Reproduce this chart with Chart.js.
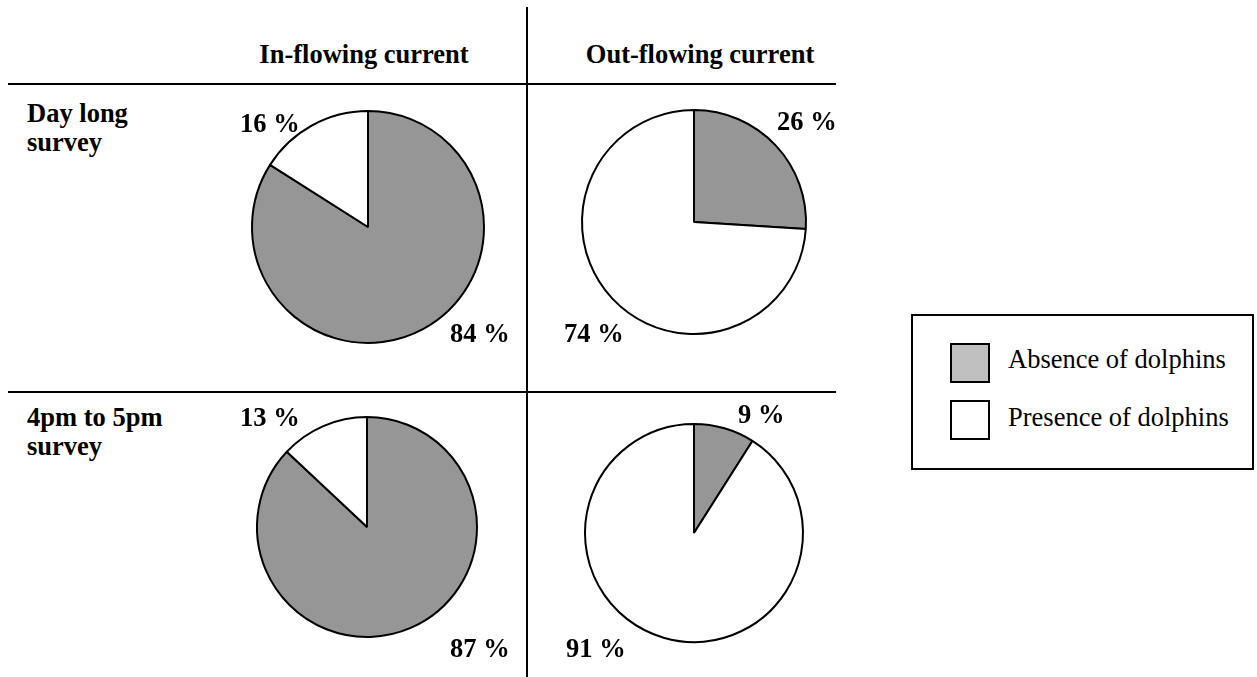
<!DOCTYPE html>
<html>
<head>
<meta charset="utf-8">
<title>Dolphins and currents</title>
<script src="https://cdn.jsdelivr.net/npm/chart.js@4.4.1/dist/chart.umd.min.js"></script>
<style>
  html, body { margin: 0; padding: 0; background: #fff; }
  #page { position: relative; width: 1257px; height: 677px; overflow: hidden;
          font-family: "Liberation Serif", "Times New Roman", serif; color: #000; }
  .hline { position: absolute; height: 2px; background: #000; }
  .vline { position: absolute; width: 2px; background: #000; }
  .head { position: absolute; width: 320px; text-align: center; font-weight: bold;
          font-size: 26.5px; line-height: 30px; white-space: nowrap; }
  .row { position: absolute; font-weight: bold; font-size: 26.5px; line-height: 29px; white-space: nowrap; }
  .pie { position: absolute; }
  #legend { position: absolute; left: 911px; top: 314px; width: 343px; height: 156px;
            box-sizing: border-box; border: 2px solid #000; background: #fff; }
  .swatch { position: absolute; left: 37px; width: 40px; height: 40px; box-sizing: border-box; border: 2px solid #000; }
  .ltext { position: absolute; left: 95px; font-size: 26.5px; line-height: 30px; white-space: nowrap; }
</style>
</head>
<body>
<div id="page">
  <div class="vline" style="left:526px; top:7px; height:670px;"></div>
  <div class="hline" style="left:8px; top:83px; width:828px;"></div>
  <div class="hline" style="left:8px; top:391px; width:828px;"></div>
  <div id="heads"></div>
  <div id="rows"></div>
  <div id="pies"></div>
  <div id="legend"></div>
</div>

<script>
// categories (slice order, clockwise from 12 o'clock)
var categories = ["Absence of dolphins", "Presence of dolphins"];
var columnLabels = ["In-flowing current", "Out-flowing current"];
var rowLabels = [["Day long", "survey"], ["4pm to 5pm", "survey"]];

// percentages [absence, presence]
var dayLongIn = [84, 16];
var dayLongOut = [26, 74];
var lateIn = [87, 13];
var lateOut = [9, 91];

var sliceColors = ["#969696", "#ffffff"];
var legendColors = ["#c0c0c0", "#ffffff"];

// layout of the 2x2 grid
var pies = [
  { values: dayLongIn,  cx: 368, cy: 227, r: 116, offsets: [[82, 115], [-128, -95]] },
  { values: dayLongOut, cx: 694, cy: 222, r: 112, offsets: [[83, -92], [-130, 120]] },
  { values: lateIn,     cx: 367, cy: 527, r: 110, offsets: [[83, 130], [-127, -101]] },
  { values: lateOut,    cx: 694, cy: 533, r: 109, offsets: [[44, -110], [-128, 124]] }
];
var headCenters = [364, 700];
var rowTops = [99, 403];

var SIZE = 320;

function labelPlugin(offsets) {
  return {
    id: 'pctLabels',
    afterDatasetsDraw: function(chart) {
      var arc = chart.getDatasetMeta(0).data[0];
      var ctx = chart.ctx;
      ctx.save();
      ctx.font = 'bold 26.5px "Liberation Serif"';
      ctx.fillStyle = '#000';
      ctx.textAlign = 'left';
      ctx.textBaseline = 'alphabetic';
      chart.data.datasets[0].data.forEach(function(v, i) {
        ctx.fillText(v + ' %', arc.x + offsets[i][0], arc.y + offsets[i][1]);
      });
      ctx.restore();
    }
  };
}

// headers and row titles
columnLabels.forEach(function(t, i) {
  var d = document.createElement('div');
  d.className = 'head';
  d.style.left = (headCenters[i] - 160) + 'px';
  d.style.top = '39px';
  d.textContent = t;
  document.getElementById('heads').appendChild(d);
});
rowLabels.forEach(function(lines, i) {
  var d = document.createElement('div');
  d.className = 'row';
  d.style.left = '27px';
  d.style.top = rowTops[i] + 'px';
  d.innerHTML = lines.join('<br>');
  document.getElementById('rows').appendChild(d);
});

// legend
categories.forEach(function(c, i) {
  var lg = document.getElementById('legend');
  var s = document.createElement('div');
  s.className = 'swatch';
  s.style.top = (27 + i * 57) + 'px';
  s.style.background = legendColors[i];
  lg.appendChild(s);
  var t = document.createElement('div');
  t.className = 'ltext';
  t.style.top = (28 + i * 58) + 'px';
  t.textContent = c;
  lg.appendChild(t);
});

// the four pies
pies.forEach(function(p) {
  var cv = document.createElement('canvas');
  cv.className = 'pie';
  cv.width = SIZE;
  cv.height = SIZE;
  cv.style.left = (p.cx - SIZE / 2) + 'px';
  cv.style.top = (p.cy - SIZE / 2) + 'px';
  document.getElementById('pies').appendChild(cv);

  new Chart(cv.getContext('2d'), {
    type: 'pie',
    data: {
      labels: categories,
      datasets: [{
        data: p.values,
        backgroundColor: sliceColors,
        borderColor: '#000',
        borderWidth: 2,
        radius: p.r
      }]
    },
    options: {
      responsive: false,
      animation: false,
      devicePixelRatio: 1,
      layout: { padding: 0 },
      events: [],
      plugins: { legend: { display: false }, tooltip: { enabled: false } }
    },
    plugins: [labelPlugin(p.offsets)]
  });
});
</script>
</body>
</html>
